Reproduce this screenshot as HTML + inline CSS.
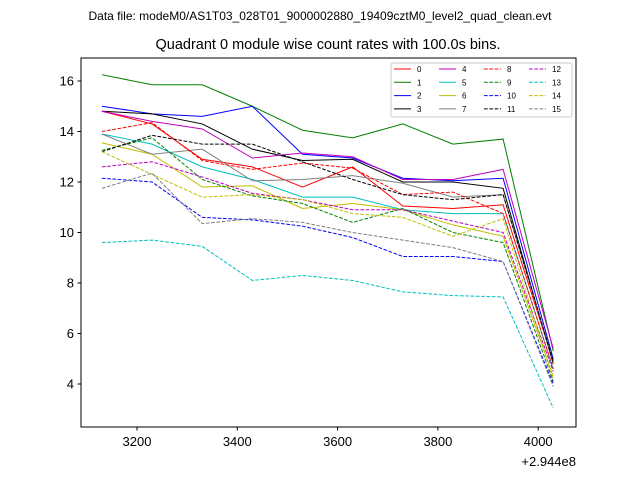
<!DOCTYPE html>
<html><head><meta charset="utf-8"><style>
body{margin:0;background:#fff}
svg{font-family:"Liberation Sans","DejaVu Sans",sans-serif}
</style></head><body>
<svg id="chart" width="640" height="480">
<text x="320" y="20" text-anchor="middle" font-size="12">Data file: modeM0/AS1T03_028T01_9000002880_19409cztM0_level2_quad_clean.evt</text>
<text x="328" y="49" text-anchor="middle" font-size="14.5">Quadrant 0 module wise count rates with 100.0s bins.</text>
<g id="plot"></g>
<rect x="81" y="58" width="495" height="369" fill="none" stroke="#000" stroke-width="1"/>
<text x="576" y="466" text-anchor="end" font-size="13">+2.944e8</text>
</svg>
<script>
const times=[3130,3230,3330,3430,3530,3630,3730,3830,3930,4030];
const xTicks=[3200,3400,3600,3800,4000];
const yTicks=[4,6,8,10,12,14,16];
const s0=[14.8,14.3,12.9,12.6,11.8,12.6,11.05,10.95,11.1,4.9];
const s1=[16.25,15.85,15.85,15.0,14.05,13.75,14.3,13.5,13.7,5.3];
const s2=[15.0,14.7,14.6,15.0,13.1,12.95,12.15,12.05,12.15,5.0];
const s3=[14.8,14.7,14.3,13.3,12.85,12.9,12.0,12.0,11.75,4.8];
const s4=[14.8,14.4,14.1,12.95,13.15,13.0,12.1,12.1,12.5,5.4];
const s5=[13.9,13.5,12.6,12.1,11.4,11.4,10.9,10.75,10.75,4.6];
const s6=[13.55,13.1,11.8,11.85,10.95,11.15,10.9,10.3,9.85,4.3];
const s7=[13.9,13.1,13.3,12.05,12.1,12.25,11.95,11.4,11.5,4.9];
const s8=[14.0,14.35,12.85,12.5,12.75,12.55,11.5,11.6,10.75,4.6];
const s9=[13.25,13.75,12.1,11.45,11.15,10.4,10.95,10.0,9.6,4.1];
const s10=[12.15,12.0,10.6,10.5,10.25,9.8,9.05,9.05,8.85,4.0];
const s11=[13.2,13.85,13.5,13.5,12.8,12.1,11.5,11.3,11.5,4.9];
const s12=[12.6,12.8,12.2,11.55,11.3,10.9,10.9,10.45,10.0,4.5];
const s13=[9.6,9.7,9.45,8.1,8.3,8.1,7.65,7.5,7.45,3.05];
const s14=[13.2,12.3,11.4,11.5,11.3,10.75,10.6,9.85,10.55,4.2];
const s15=[11.75,12.35,10.35,10.55,10.4,10.0,9.7,9.4,8.85,3.9];
const series=[s0,s1,s2,s3,s4,s5,s6,s7,s8,s9,s10,s11,s12,s13,s14,s15];
const colors=["#ff0000","#008000","#0000ff","#000000","#bf00bf","#00bfbf","#bfbf00","#808080"];
const NS="http://www.w3.org/2000/svg";
const xs=v=>137+(v-3200)*0.5015;
const ys=v=>384-(v-4)*25.25;
const g=document.getElementById('plot');
function mk(t,a){const e=document.createElementNS(NS,t);for(const k in a)e.setAttribute(k,a[k]);return e;}
xTicks.forEach(t=>{
 const l=mk('line',{x1:xs(t),x2:xs(t),y1:427,y2:430.5,stroke:'#000'});
 
 
 g.appendChild(l);
 const tx=mk('text',{x:xs(t),y:446,'text-anchor':'middle','font-size':13});
 tx.textContent=t;
 
 
 g.appendChild(tx);
});
yTicks.forEach(t=>{
 const l=mk('line',{x1:77.5,x2:81,y1:ys(t),y2:ys(t),stroke:'#000'});
 
 
 g.appendChild(l);
 const tx=mk('text',{x:74,y:ys(t)+4.5,'text-anchor':'end','font-size':13});
 tx.textContent=t;
 
 
 g.appendChild(tx);
});
series.forEach((s,i)=>{
 const p=mk('polyline',{points:s.map((v,j)=>xs(times[j])+','+ys(v)).join(' '),fill:'none',stroke:colors[i%8],'stroke-width':1});
 if(i>=8)p.setAttribute('stroke-dasharray','3.7,1.6');
 
 
 g.appendChild(p);
});
// legend
const lg=mk('g',{});


lg.appendChild(mk('rect',{x:391,y:63,width:181,height:54,rx:2,fill:'#fff','fill-opacity':0.8,stroke:'#ccc'}));
series.forEach((s,i)=>{
 const c=Math.floor(i/4),r=i%4;
 const x0=394+c*45,y0=69+r*13.3;
 const e=mk('g',{});
 
 
 const l=mk('line',{x1:x0,x2:x0+17,y1:y0,y2:y0,stroke:colors[i%8],'stroke-width':1});
 if(i>=8)l.setAttribute('stroke-dasharray','3.7,1.6');
 e.appendChild(l);
 const tx=mk('text',{x:x0+23,y:y0+3,'font-size':8});
 tx.textContent=i;
 e.appendChild(tx);
 lg.appendChild(e);
});
g.appendChild(lg);
</script>
</body></html>
